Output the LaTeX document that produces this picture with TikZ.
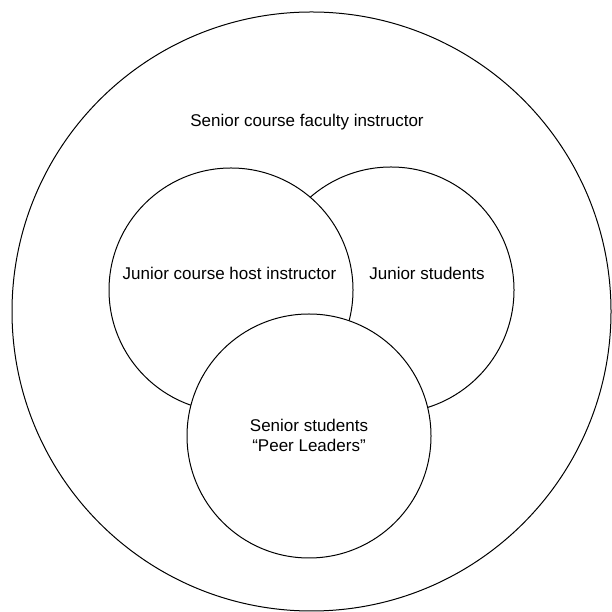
\documentclass[tikz,border=0pt]{standalone}
\usepackage{fontspec}
\setmainfont{Liberation Sans}
\begin{document}
\begin{tikzpicture}[x=1pt,y=1pt,
  ring/.style={circle,draw=black,line width=1pt,fill=white,inner sep=0pt},
  lbl/.style={font=\fontsize{17}{20}\selectfont,align=center,inner sep=0pt}]
\useasboundingbox (0,0) rectangle (612,612);
\node[ring,minimum size=599pt] (outer) at (311.5,300.5) {};
\node[ring,minimum size=246pt] (right) at (391,322) {};
\node[ring,minimum size=244pt] (left) at (231,322) {};
\node[ring,minimum size=244pt] (bottom) at (309,176) {};
\node[lbl] (tfac) at (307,490) {Senior course faculty instructor};
\node[lbl] (thost) at (229.5,339) {Junior course host instructor};
\node[lbl] (tjun) at (427,339) {Junior students};
\node[lbl] (tsen) at (309,176.5) {Senior students\\“Peer Leaders”};
\end{tikzpicture}
\end{document}
